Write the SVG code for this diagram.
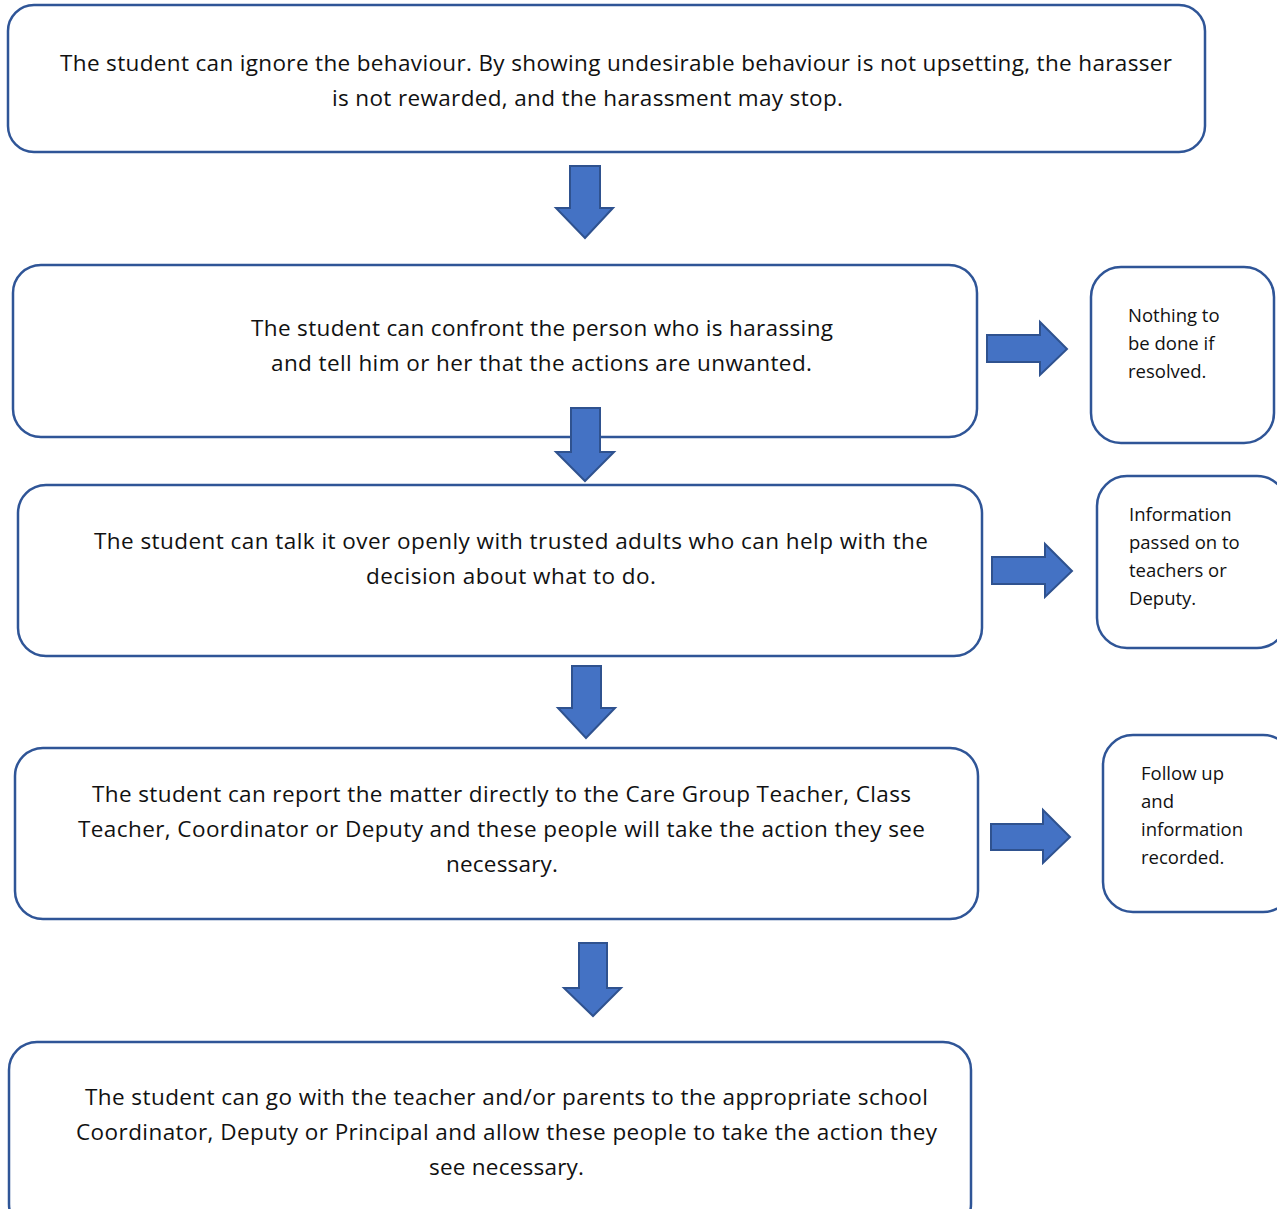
<svg xmlns="http://www.w3.org/2000/svg" width="1277" height="1209" viewBox="0 0 1277 1209">
<style>
.box{fill:#fff;stroke:#2F5597;stroke-width:2.5}
.arr{fill:#4472C4;stroke:#2F528F;stroke-width:2;stroke-linejoin:miter}
.t{font-family:"Open Sans","Noto Sans",sans-serif;font-size:22.5px;fill:#111;text-anchor:middle}
.s{font-family:"Open Sans","Noto Sans",sans-serif;font-size:18.5px;fill:#111}
</style>
<rect width="1277" height="1209" fill="#fff"/>
<g id="n1"><rect class="box" x="8" y="5" width="1197" height="147" rx="26"/>
<text class="t" x="616" y="71" textLength="1112">The student can ignore the behaviour. By showing undesirable behaviour is not upsetting, the harasser</text>
<text class="t" x="587.5" y="106" textLength="511">is not rewarded, and the harassment may stop.</text></g>
<g id="n2"><rect class="box" x="13" y="265" width="964" height="172" rx="28"/>
<text class="t" x="542" y="336" textLength="582">The student can confront the person who is harassing</text>
<text class="t" x="541.5" y="371" textLength="541">and tell him or her that the actions are unwanted.</text></g>
<g id="s1"><rect class="box" x="1091" y="267" width="183" height="176" rx="30"/>
<text class="s" x="1128" y="322">Nothing to</text>
<text class="s" x="1128" y="350">be done if</text>
<text class="s" x="1128" y="378">resolved.</text></g>
<g id="n3"><rect class="box" x="18" y="485" width="964" height="171" rx="28"/>
<text class="t" x="511" y="549" textLength="834">The student can talk it over openly with trusted adults who can help with the</text>
<text class="t" x="511" y="584" textLength="290">decision about what to do.</text></g>
<g id="s2"><rect class="box" x="1097" y="476" width="190" height="172" rx="30"/>
<text class="s" x="1129" y="521">Information</text>
<text class="s" x="1129" y="549">passed on to</text>
<text class="s" x="1129" y="577">teachers or</text>
<text class="s" x="1129" y="605">Deputy.</text></g>
<g id="n4"><rect class="box" x="15" y="748" width="963" height="171" rx="28"/>
<text class="t" x="501.5" y="802" textLength="819">The student can report the matter directly to the Care Group Teacher, Class</text>
<text class="t" x="501.5" y="837" textLength="847">Teacher, Coordinator or Deputy and these people will take the action they see</text>
<text class="t" x="502" y="872" textLength="112">necessary.</text></g>
<g id="s3"><rect class="box" x="1103" y="735" width="190" height="177" rx="30"/>
<text class="s" x="1141" y="780">Follow up</text>
<text class="s" x="1141" y="808">and</text>
<text class="s" x="1141" y="836">information</text>
<text class="s" x="1141" y="864">recorded.</text></g>
<g id="n5"><rect class="box" x="9" y="1042" width="962" height="190" rx="28"/>
<text class="t" x="506.5" y="1105" textLength="843">The student can go with the teacher and/or parents to the appropriate school</text>
<text class="t" x="506.5" y="1140" textLength="861">Coordinator, Deputy or Principal and allow these people to take the action they</text>
<text class="t" x="506.5" y="1175" textLength="155">see necessary.</text></g>
<g id="connectors">
<polygon class="arr" points="570,166 600,166 600,208 613,208 585,238 556,208 570,208"/>
<polygon class="arr" points="571,408 600,408 600,452 614,452 585,481 556,452 571,452"/>
<polygon class="arr" points="572,666 601,666 601,708 615,708 586,738 558,708 572,708"/>
<polygon class="arr" points="579,943 607,943 607,988 621,988 593,1016 564,988 579,988"/>
<polygon class="arr" points="987,335 1040,335 1040,322 1067,349 1040,375 1040,362 987,362"/>
<polygon class="arr" points="992,557 1045,557 1045,544 1072,571 1045,597 1045,584 992,584"/>
<polygon class="arr" points="991,824 1043,824 1043,810 1070,837 1043,863 1043,850 991,850"/>
</g>
</svg>
